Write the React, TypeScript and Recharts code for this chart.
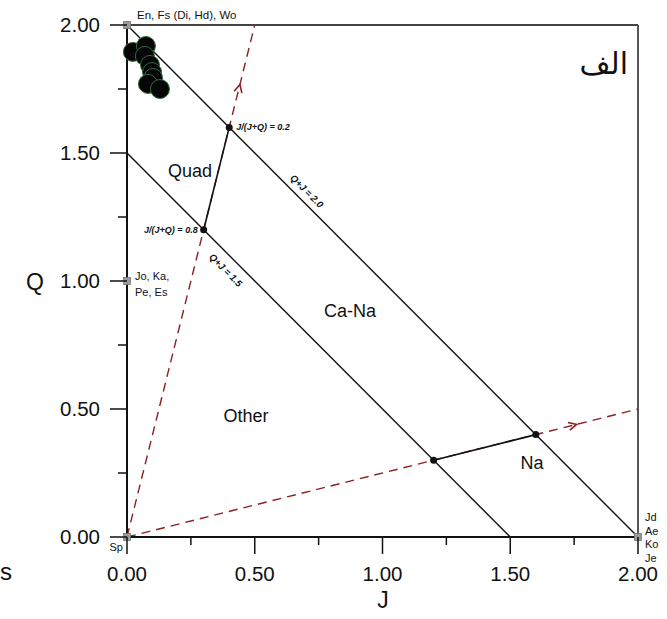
import { ScatterChart, Scatter, XAxis, YAxis, ReferenceLine } from 'recharts';

const WIDTH = 667;
const HEIGHT = 619;
const MARGIN = { top: 25, right: 29, bottom: 22, left: 67 };
const Y_AXIS_W = 60;
const X_AXIS_H = 60;
const PLOT_W = WIDTH - MARGIN.left - Y_AXIS_W - MARGIN.right;
const PLOT_H = HEIGHT - MARGIN.top - MARGIN.bottom - X_AXIS_H;
// pixels per unit on each axis (both domains run 0..2)
const PX_J = PLOT_W / 2;
const PX_Q = PLOT_H / 2;

const FONT = '"Liberation Sans", Arial, sans-serif';
const INK = '#111';
const DASH_RED = '#8b1f24';

// analysed pyroxenes
const sampleJ = [0.023, 0.074, 0.070, 0.090, 0.098, 0.102, 0.082, 0.129];
const sampleQ = [1.895, 1.918, 1.879, 1.844, 1.816, 1.793, 1.770, 1.750];

const tickValues = [0, 0.25, 0.5, 0.75, 1, 1.25, 1.5, 1.75, 2];
const majorTicks = [0, 0.5, 1, 1.5, 2];

// field boundaries, [J, Q] end points
const lineQJ20 = [[0, 2], [2, 0]];
const lineQJ15 = [[0, 1.5], [1.5, 0]];
const quadTie = [[0.4, 1.6], [0.3, 1.2]];
const naTie = [[1.2, 0.3], [1.6, 0.4]];
// J/(J+Q) ratio guides
const ratio02 = [[0, 0], [0.5, 2]];
const ratio08 = [[0, 0], [2, 0.5]];

// tie-line nodes
const nodeJ = [0.4, 0.3, 1.2, 1.6];
const nodeQ = [1.6, 1.2, 0.3, 0.4];

// arrow heads on the ratio guides
const arrowJ = [0.442, 1.76];
const arrowQ = [1.768, 0.44];
const arrowDir = [ratio02[1], ratio08[1]];

// end-member corners
const endJ = [0, 0, 0, 2];
const endQ = [2, 1, 0, 0];
const endNames = [['En, Fs (Di, Hd), Wo'], ['Jo, Ka,', 'Pe, Es'], ['Sp'], ['Jd', 'Ae', 'Ko', 'Je']];

// field names
const fieldNames = ['Quad', 'Ca-Na', 'Other', 'Na'];
const fieldJ = [0.247, 0.873, 0.466, 1.585];
const fieldQ = [1.43, 0.883, 0.473, 0.289];

// boundary annotations
const ratioText = ['J/(J+Q) = 0.2', 'J/(J+Q) = 0.8'];
const sumText = ['Q+J = 2.0', 'Q+J = 1.5'];
const sumJ = [0.7045, 0.387];
const sumQ = [1.3516, 1.043];

const seg = (pts: number[][]) => pts.map(([x, y]) => ({ x, y }));
const zipPts = (js: number[], qs: number[]) => js.map((j, i) => ({ j, q: qs[i], i }));

const samples = zipPts(sampleJ, sampleQ);
const nodes = zipPts(nodeJ, nodeQ);
const arrows = zipPts(arrowJ, arrowQ);
const ends = zipPts(endJ, endQ);
const fields = zipPts(fieldJ, fieldQ);
const ratioLabels = nodes.slice(0, 2);
const sumLabels = zipPts(sumJ, sumQ);

const XTick = ({ x, y, payload }: any) => {
  const major = majorTicks.includes(payload.value);
  return (
    <g>
      <line x1={x} x2={x} y1={y} y2={y + (major ? 17 : 8)} stroke={INK} strokeWidth={1.5} />
      {major && (
        <text x={x} y={y + 44} textAnchor="middle" fontFamily={FONT} fontSize={20.5} fill={INK}>
          {payload.value.toFixed(2)}
        </text>
      )}
    </g>
  );
};

const YTick = ({ x, y, payload }: any) => {
  const major = majorTicks.includes(payload.value);
  return (
    <g>
      <line x1={x} x2={x - (major ? 17 : 9)} y1={y} y2={y} stroke={INK} strokeWidth={1.5} />
      {major && (
        <text x={x - 27} y={y + 7} textAnchor="end" fontFamily={FONT} fontSize={20.5} fill={INK}>
          {payload.value.toFixed(2)}
        </text>
      )}
    </g>
  );
};

const SampleDot = ({ cx, cy }: any) => (
  <circle cx={cx} cy={cy} r={9.5} fill="#060606" stroke="#2f6b3c" strokeWidth={1} />
);

const NodeDot = ({ cx, cy }: any) => <circle cx={cx} cy={cy} r={3.5} fill={INK} />;

const ArrowHead = ({ cx, cy, payload }: any) => {
  const [dj, dq] = arrowDir[payload.i];
  const angle = (Math.atan2(-dq * PX_Q, dj * PX_J) * 180) / Math.PI;
  return (
    <path
      d="M-8,-4 L0,0 L-8,4"
      transform={`translate(${cx},${cy}) rotate(${angle})`}
      fill="none"
      stroke={DASH_RED}
      strokeWidth={1.6}
    />
  );
};

// per-corner text placement: [dx, first baseline dy, line step, anchor]
const endLayout: [number, number, number, 'start' | 'end'][] = [
  [10, -6, 0, 'start'],
  [8, -1, 16, 'start'],
  [-4, 14, 0, 'end'],
  [7, -16, 13.5, 'start'],
];

const EndMember = ({ cx, cy, payload }: any) => {
  const [dx, dy, step, anchor] = endLayout[payload.i];
  return (
    <g>
      <rect x={cx - 3.5} y={cy - 3.5} width={7} height={7} fill="#9a9a9a" stroke="#777" strokeWidth={0.8} />
      {endNames[payload.i].map((t, k) => (
        <text
          key={t}
          x={cx + dx}
          y={cy + dy + k * step}
          textAnchor={anchor}
          fontFamily={FONT}
          fontSize={payload.i === 0 ? 11.5 : 11}
          fill={INK}
        >
          {t}
        </text>
      ))}
    </g>
  );
};

const FieldLabel = ({ cx, cy, payload }: any) => (
  <text x={cx} y={cy} textAnchor="middle" dominantBaseline="central" fontFamily={FONT} fontSize={18} fill={INK}>
    {fieldNames[payload.i]}
  </text>
);

const RatioLabel = ({ cx, cy, payload }: any) => {
  const left = payload.i === 1;
  return (
    <text
      x={cx + (left ? -6 : 7)}
      y={cy}
      textAnchor={left ? 'end' : 'start'}
      dominantBaseline="central"
      fontFamily={FONT}
      fontSize={9}
      fontWeight="bold"
      fontStyle="italic"
      fill={INK}
    >
      {ratioText[payload.i]}
    </text>
  );
};

const sumAngle = (Math.atan2(PX_Q, PX_J) * 180) / Math.PI;

const SumLabel = ({ cx, cy, payload }: any) => (
  <text
    x={cx}
    y={cy}
    textAnchor="middle"
    dominantBaseline="central"
    transform={`rotate(${sumAngle},${cx},${cy})`}
    fontFamily={FONT}
    fontSize={9.5}
    fontWeight="bold"
    fontStyle="italic"
    fill={INK}
  >
    {sumText[payload.i]}
  </text>
);

export default function App() {
  return (
    <div style={{ position: 'absolute', left: 0, top: 0, width: WIDTH, height: HEIGHT, background: '#fff' }}>
      <ScatterChart width={WIDTH} height={HEIGHT} margin={MARGIN}>
        <XAxis
          type="number"
          dataKey="j"
          domain={[0, 2]}
          ticks={tickValues}
          interval={0}
          height={X_AXIS_H}
          tickSize={0}
          tickMargin={0}
          tick={<XTick />}
          axisLine={{ stroke: INK, strokeWidth: 2 }}
        />
        <YAxis
          type="number"
          dataKey="q"
          domain={[0, 2]}
          ticks={tickValues}
          interval={0}
          width={Y_AXIS_W}
          tickSize={0}
          tickMargin={0}
          tick={<YTick />}
          axisLine={{ stroke: INK, strokeWidth: 2 }}
        />

        <ReferenceLine y={2} stroke="#444" strokeWidth={1.8} />
        <ReferenceLine x={2} stroke="#444" strokeWidth={1.8} />

        <ReferenceLine segment={seg(ratio02)} stroke={DASH_RED} strokeWidth={1.4} strokeDasharray="9 6" />
        <ReferenceLine segment={seg(ratio08)} stroke={DASH_RED} strokeWidth={1.4} strokeDasharray="9 6" />

        <ReferenceLine segment={seg(lineQJ20)} stroke={INK} strokeWidth={1.4} />
        <ReferenceLine segment={seg(lineQJ15)} stroke={INK} strokeWidth={1.4} />
        <ReferenceLine segment={seg(quadTie)} stroke={INK} strokeWidth={1.6} />
        <ReferenceLine segment={seg(naTie)} stroke={INK} strokeWidth={1.6} />

        <Scatter data={arrows} shape={<ArrowHead />} isAnimationActive={false} />
        <Scatter data={nodes} shape={<NodeDot />} isAnimationActive={false} />
        <Scatter data={ends} shape={<EndMember />} isAnimationActive={false} />
        <Scatter data={fields} shape={<FieldLabel />} isAnimationActive={false} />
        <Scatter data={ratioLabels} shape={<RatioLabel />} isAnimationActive={false} />
        <Scatter data={sumLabels} shape={<SumLabel />} isAnimationActive={false} />
        <Scatter data={samples} shape={<SampleDot />} isAnimationActive={false} />
      </ScatterChart>

      <svg
        width={WIDTH}
        height={HEIGHT}
        style={{ position: 'absolute', left: 0, top: 0, pointerEvents: 'none' }}
      >
        <text x={35} y={290} textAnchor="middle" fontFamily={FONT} fontSize={23} fill={INK}>Q</text>
        <text x={383} y={608} textAnchor="middle" fontFamily={FONT} fontSize={23} fill={INK}>J</text>
        <text x={0} y={580} fontFamily={FONT} fontSize={24} fill={INK}>s</text>
        <text x={628} y={74} textAnchor="end" fontFamily='"DejaVu Sans", sans-serif' fontSize={30} fill={INK}>الف</text>
      </svg>
    </div>
  );
}
